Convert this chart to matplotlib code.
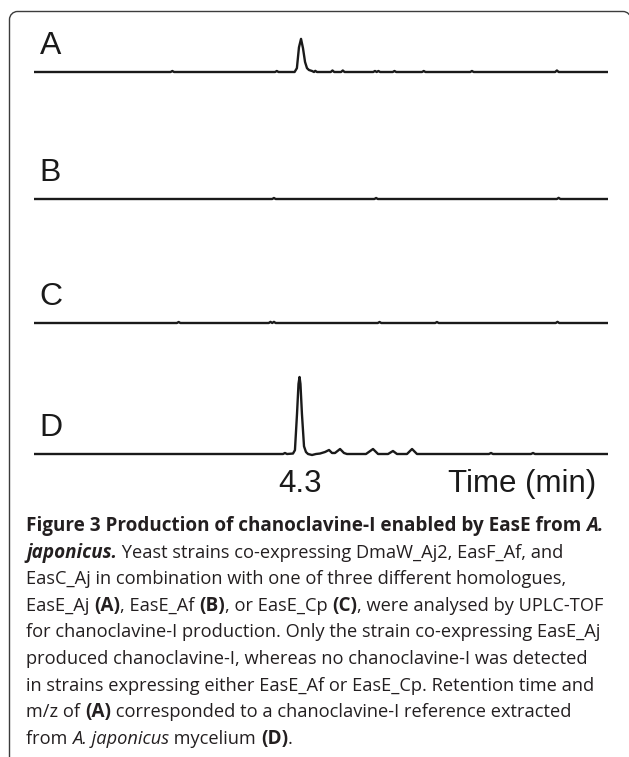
import matplotlib
matplotlib.use("Agg")
import numpy as np
import matplotlib.pyplot as plt
from matplotlib.path import Path
from matplotlib.patches import PathPatch
from matplotlib.transforms import blended_transform_factory

# ---------------- data (time in min, intensity in % of trace D peak) ----------------
time_range = (2.0, 7.0)

A_time = [2.000, 3.190, 3.205, 3.220, 4.100, 4.115, 4.130, 4.270, 4.290, 4.308, 4.326,
          4.343, 4.361, 4.378, 4.395, 4.422, 4.439, 4.450, 4.465, 4.585, 4.600, 4.615,
          4.675, 4.690, 4.705, 4.955, 4.970, 4.985, 5.000, 5.015, 5.125, 5.140, 5.155,
          5.380, 5.395, 5.410, 5.800, 5.815, 5.830, 6.540, 6.555, 6.570, 7.000]
A_int = [0, 0, 1.3, 0, 0, 1.3, 0, 0, 5, 32, 43,
         31, 13, 5, 2.6, 1.3, 0, 1.5, 0, 0, 2, 0,
         0, 2, 0, 0, 1.3, 0, 1.3, 0, 0, 1.3, 0,
         0, 1.3, 0, 0, 1.3, 0, 0, 2, 0, 0]

B_time = [2.000, 4.075, 4.090, 4.105, 4.965, 4.980, 4.995, 6.555, 6.570, 6.585, 7.000]
B_int = [0, 0, 1.3, 0, 0, 1.3, 0, 0, 1.5, 0, 0]

C_time = [2.000, 3.245, 3.260, 3.275, 4.045, 4.060, 4.075, 4.090, 4.105, 4.995, 5.010,
          5.025, 5.495, 5.510, 5.525, 6.545, 6.560, 6.575, 7.000]
C_int = [0, 0, 1.3, 0, 0, 1.5, 0, 1.5, 0, 0, 1.3,
         0, 0, 1.3, 0, 0, 1.5, 0, 0]

D_time = [2.000, 4.169, 4.186, 4.204, 4.256, 4.273, 4.291, 4.304, 4.313, 4.321, 4.334,
          4.352, 4.369, 4.387, 4.422, 4.456, 4.491, 4.535, 4.570, 4.596, 4.622, 4.666,
          4.700, 4.726, 4.892, 4.953, 4.997, 5.084, 5.127, 5.162, 5.249, 5.293, 5.336,
          5.963, 5.981, 5.998, 6.329, 6.347, 6.364, 7.000]
D_int = [0, 0, 1.3, 0, 0.6, 5, 52, 91, 100, 91, 52,
         10, 2.6, 0, -1.3, 0, 0.6, 2.6, 5.2, 1.3, 1.3, 6.5,
         1.3, 0, 0, 6.5, 0, 0, 3.9, 0, 0, 6.5, 0,
         0, 1.3, 0, 0, 1.3, 0, 0]

panel_labels = ["A", "B", "C", "D"]
series_time = [A_time, B_time, C_time, D_time]
series_int = [A_int, B_int, C_int, D_int]
peak_label = "4.3"
peak_time = 4.313
xlabel = "Time (min)"

caption_lines = [
    [("Figure 3 Production of chanoclavine-I enabled by EasE from ", "b"), ("A.", "bi")],
    [("japonicus.", "bi"), (" Yeast strains co-expressing DmaW_Aj2, EasF_Af, and", "r")],
    [("EasC_Aj in combination with one of three different homologues,", "r")],
    [("EasE_Aj ", "r"), ("(A)", "b"), (", EasE_Af ", "r"), ("(B)", "b"), (", or EasE_Cp ", "r"),
     ("(C)", "b"), (", were analysed by UPLC-TOF", "r")],
    [("for chanoclavine-I production. Only the strain co-expressing EasE_Aj", "r")],
    [("produced chanoclavine-I, whereas no chanoclavine-I was detected", "r")],
    [("in strains expressing either EasE_Af or EasE_Cp. Retention time and", "r")],
    [("m/z of ", "r"), ("(A)", "b"), (" corresponded to a chanoclavine-I reference extracted", "r")],
    [("from ", "r"), ("A. japonicus", "i"), (" mycelium ", "r"), ("(D)", "b"), (".", "r")],
]

# ---------------- layout ----------------
W, H = 629, 757
fig = plt.figure(figsize=(W / 100, H / 100), dpi=100)
fig.patch.set_facecolor("white")

# frame (pixel coordinates overlay): left side, top, rounded corners
frame_ax = fig.add_axes([0, 0, 1, 1])
frame_ax.set_xlim(0, W)
frame_ax.set_ylim(H, 0)
frame_ax.axis("off")
fl, ft, fr, r = 9.5, 11.5, 631.0, 8.0
k = 0.5523 * r
verts = [(fl, H + 5), (fl, ft + r),
         (fl, ft + r - k), (fl + r - k, ft), (fl + r, ft),
         (fr - r, ft),
         (fr - r + k, ft), (fr, ft + r - k), (fr, ft + r),
         (fr, H + 5)]
codes = [Path.MOVETO, Path.LINETO,
         Path.CURVE4, Path.CURVE4, Path.CURVE4,
         Path.LINETO,
         Path.CURVE4, Path.CURVE4, Path.CURVE4,
         Path.LINETO]
frame_ax.add_patch(PathPatch(Path(verts, codes), fill=False, edgecolor="#3c3c3c",
                             linewidth=1.0, clip_on=False))

baselines_px = [72, 199, 323, 454]
x0, x1 = 34, 608
px_per_unit = 0.77
below, above = 14, 100
line_col = "#1a1a1a"
sans = "Liberation Sans"

axes = []
for lab, t, inten, yb in zip(panel_labels, series_time, series_int, baselines_px):
    ax = fig.add_axes([x0 / W, (H - yb - below) / H, (x1 - x0) / W, (below + above) / H])
    ax.plot(t, inten, color=line_col, lw=1.7, solid_joinstyle="round", solid_capstyle="butt")
    ax.set_xlim(*time_range)
    ax.set_ylim(-below / px_per_unit, above / px_per_unit)
    ax.axis("off")
    fig.text(39.5 / W, (H - yb + 18) / H, lab, fontsize=23, family=sans,
             color="#1a1a1a", ha="left", va="baseline")
    axes.append(ax)

axD = axes[-1]
trans = blended_transform_factory(axD.transData, fig.transFigure)
axD.text(peak_time, (H - 492) / H, peak_label, transform=trans, fontsize=22.5,
         family=sans, color="#1a1a1a", ha="center", va="baseline")
fig.text(596 / W, (H - 492) / H, xlabel, fontsize=22.5, family=sans,
         color="#1a1a1a", ha="right", va="baseline")

# ---------------- caption ----------------
cap_font = "Open Sans"
styles = {"r": dict(weight="normal", style="normal"),
          "b": dict(weight="bold", style="normal"),
          "i": dict(weight="normal", style="italic"),
          "bi": dict(weight="bold", style="italic")}
renderer = fig.canvas.get_renderer()


def seg_width(s, st, size):
    t1 = fig.text(0, 0, "x" + s + "x", fontsize=size, family=cap_font, **styles[st])
    t2 = fig.text(0, 0, "xx", fontsize=size, family=cap_font, **styles[st])
    w = t1.get_window_extent(renderer).width - t2.get_window_extent(renderer).width
    t1.remove(); t2.remove()
    return w


ref = 10.0
# bold faces fitted to the bold first line (578 px), regular faces to line 5 (576 px)
w_bold = sum(seg_width(s, st, ref) for s, st in caption_lines[0])
w_reg = sum(seg_width(s, st, ref) for s, st in caption_lines[4])
size_of = {"b": ref * 578 / w_bold, "bi": ref * 578 / w_bold,
           "r": ref * 576 / w_reg, "i": ref * 576 / w_reg}

cap_x0 = 26
cap_base0 = 531
cap_step = 26.6
for k_line, line in enumerate(caption_lines):
    x = cap_x0
    yb = cap_base0 + k_line * cap_step
    for s, st in line:
        fig.text(x / W, (H - yb) / H, s, fontsize=size_of[st], family=cap_font,
                 color="#231f20", ha="left", va="baseline", **styles[st])
        x += seg_width(s, st, size_of[st])

fig.savefig("out.png", dpi=100, facecolor="white")
